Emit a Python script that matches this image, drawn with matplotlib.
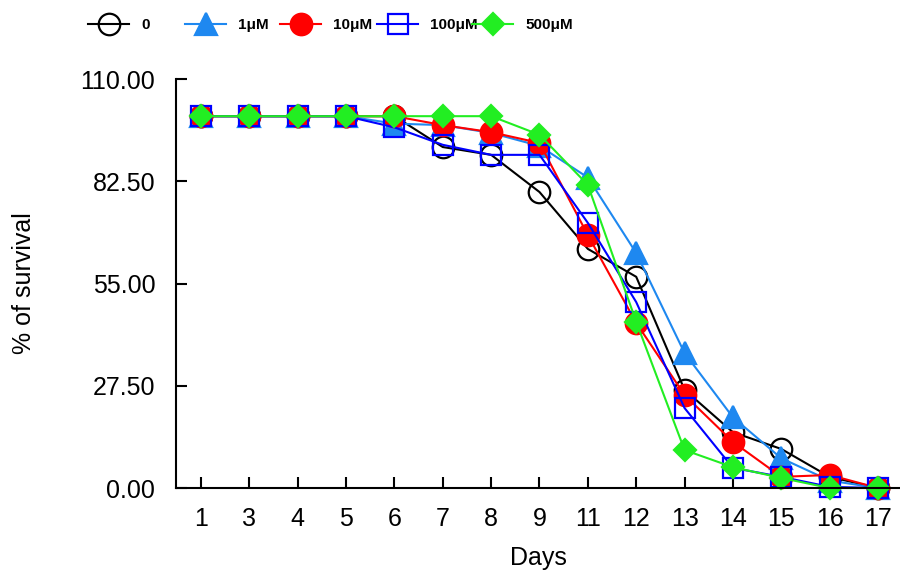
import matplotlib.pyplot as plt

days = ['1', '3', '4', '5', '6', '7', '8', '9', '11', '12', '13', '14', '15', '16', '17']
ctrl = [100, 100, 100, 100, 100, 91.7, 89.6, 79.6, 64.3, 56.8, 26.4, 15.0, 10.5, 3.0, 0]
um1 = [100, 100, 100, 100, 98.0, 97.6, 95.5, 92.0, 83.5, 63.2, 36.3, 19.0, 8.0, 2.0, 0]
um10 = [100, 100, 100, 100, 100, 97.6, 95.7, 92.8, 68.0, 44.4, 25.0, 12.4, 3.0, 3.5, 0]
um100 = [100, 100, 100, 100, 97.0, 92.3, 89.6, 89.6, 71.3, 50.0, 21.5, 5.4, 3.0, 0.3, 0]
um500 = [100, 100, 100, 100, 100, 100, 100, 95.0, 81.5, 44.7, 10.2, 5.6, 2.7, 0, 0]
labels = ['0', '1μM', '10μM', '100μM', '500μM']
yticks = [0, 27.5, 55, 82.5, 110]

series = [ctrl, um1, um10, um100, um500]
styles = [
    dict(color='black', marker='o', ms=15.5, mfc='none', mec='black'),
    dict(color='#1E88F0', marker='^', ms=15.5, mfc='#1E88F0', mec='#1E88F0'),
    dict(color='#FF0000', marker='o', ms=15.5, mfc='#FF0000', mec='#FF0000'),
    dict(color='#0000FF', marker='s', ms=15, mfc='none', mec='#0000FF'),
    dict(color='#22EE22', marker='D', ms=11.5, mfc='#22EE22', mec='#22EE22'),
]

plt.rcParams['font.family'] = ['Liberation Sans', 'DejaVu Sans']

fig = plt.figure(figsize=(9, 5.79), dpi=100)
ax = fig.add_axes([176 / 900, 91 / 579, 724 / 900, 409 / 579])

x = list(range(len(days)))
handles = []
for vals, st in zip(series, styles):
    ln, = ax.plot(x, vals, lw=1.5, mew=1.6, clip_on=False, **st)
    handles.append(ln)

ax.set_xlim(-0.517, 14.455)
ax.set_ylim(0, 110)
ax.set_xticks(x)
ax.set_xticklabels(days)
ax.set_yticks(yticks)
ax.set_yticklabels(['%.2f' % v for v in yticks])

for s in ['top', 'right']:
    ax.spines[s].set_visible(False)
for s in ['left', 'bottom']:
    ax.spines[s].set_linewidth(1.5)
ax.tick_params(axis='both', direction='in', length=8, width=1.5, labelsize=18)
ax.tick_params(axis='y', pad=15)
ax.tick_params(axis='x', pad=14)

ax.set_xlabel('Days', fontsize=18)
ax.xaxis.set_label_coords(0.5, -0.142)
ax.set_ylabel('% of survival', fontsize=18)
ax.yaxis.set_label_coords(-0.193, 0.5)

# legend: one entry per slot, evenly spaced across the top
starts = [88, 185, 280, 377, 472]
for h, lab, x0 in zip(handles, labels, starts):
    fig.legend([h], [lab], loc='center left', bbox_to_anchor=(x0 / 900, 1 - 25 / 579),
               frameon=False, borderpad=0, borderaxespad=0, handlelength=2.7,
               handletextpad=0.8, prop=dict(weight='bold', size=11))

fig.savefig('out.png', dpi=100)
